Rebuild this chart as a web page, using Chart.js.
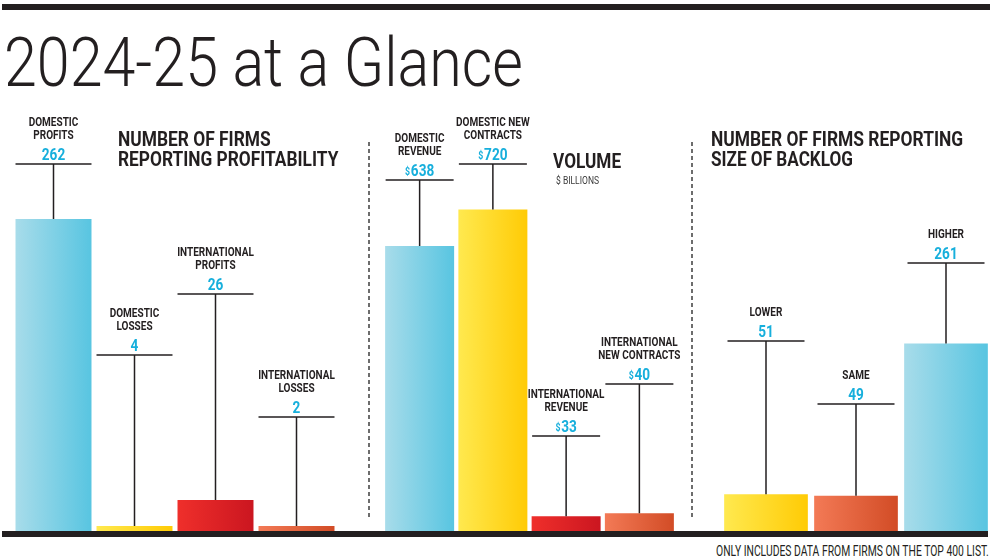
<!DOCTYPE html>
<html>
<head>
<meta charset="utf-8">
<script src="https://cdn.jsdelivr.net/npm/chart.js@4"></script>
<style>
  body { margin: 0; width: 993px; height: 558px; background: #fff; position: relative; overflow: hidden; font-family: Roboto, sans-serif; }
  .rule { position: absolute; background: #231f20; }
  .sep { position: absolute; width: 1.5px; background: repeating-linear-gradient(to bottom, #6d6d6d 0 4px, transparent 4px 7px); }
  .txt { position: absolute; white-space: nowrap; color: #231f20; transform-origin: 0 0; }
  canvas { position: absolute; top: 100px; }
</style>
</head>
<body>
<div class="rule" style="left:2px;top:4px;width:988px;height:6px"></div>
<div class="sep" style="left:368px;top:142px;height:376px"></div>
<div class="sep" style="left:691px;top:142px;height:376px"></div>

<canvas id="profits" width="344" height="431" style="left:3px"></canvas>
<canvas id="volume" width="313" height="431" style="left:373px"></canvas>
<canvas id="backlog" width="282" height="431" style="left:711px"></canvas>

<div class="rule" style="left:2px;top:531px;width:986px;height:6px"></div>

<script>
// data
const profitLabels = [['DOMESTIC', 'PROFITS'], ['DOMESTIC', 'LOSSES'], ['INTERNATIONAL', 'PROFITS'], ['INTERNATIONAL', 'LOSSES']]
const profitValues = [262, 4, 26, 2]

const volumeLabels = [['DOMESTIC', 'REVENUE'], ['DOMESTIC NEW', 'CONTRACTS'], ['INTERNATIONAL', 'REVENUE'], ['INTERNATIONAL', 'NEW CONTRACTS']]
const volumeValues = [638, 720, 33, 40]   // $ billions

const backlogLabels = [['LOWER'], ['SAME'], ['HIGHER']]
const backlogValues = [51, 49, 261]

// colours (left -> right gradient)
const INK = '#231f20'
const VALUE = '#17afdc'
const CYAN = ['#a8dcea', '#58c5e1']
const YELLOW = ['#ffe94f', '#ffcb05']
const RED = ['#ef2f2b', '#cb1620']
const ORANGE = ['#f37a56', '#d24c26']
const SX = 0.8   // condensed look

// height of each callout bar (canvas px)
const profitCallouts = [64, 255, 194, 317]
const volumeCallouts = [80, 64, 336, 284]
const backlogCallouts = [241, 304, 163]

const texts = [
  { t: '2024-25 at a Glance', x: 4, base: 86.5, fs: 69, w: 300, fit: 519 },
  { t: 'NUMBER OF FIRMS', x: 118, base: 146.5, fs: 21, w: 700, fit: 153 },
  { t: 'REPORTING PROFITABILITY', x: 118, base: 167, fs: 21, w: 700, fit: 220 },
  { t: 'VOLUME', x: 553, base: 168.5, fs: 21, w: 700, fit: 68 },
  { t: '$ BILLIONS', x: 556, base: 185, fs: 10.5, w: 400, fit: 43, c: '#3a3a3a' },
  { t: 'NUMBER OF FIRMS REPORTING', x: 711, base: 146.5, fs: 21, w: 700, fit: 252 },
  { t: 'SIZE OF BACKLOG', x: 711, base: 167, fs: 21, w: 700, fit: 142 },
  { t: 'ONLY INCLUDES DATA FROM FIRMS ON THE TOP 400 LIST.', x: 716, base: 555.5, fs: 14, w: 400, fit: 273 }
]

texts.forEach(s => {
  const el = document.createElement('div')
  el.className = 'txt'
  el.textContent = s.t
  el.style.left = s.x + 'px'
  el.style.top = (s.base - 0.842 * s.fs) + 'px'
  el.style.fontSize = s.fs + 'px'
  el.style.lineHeight = s.fs + 'px'
  el.style.fontWeight = s.w
  if (s.c) el.style.color = s.c
  document.body.appendChild(el)
  el.style.transform = 'scaleX(' + (s.fit / el.offsetWidth) + ')'
})

function drawCondensed(ctx, text, x, y, font, color, align) {
  ctx.save()
  ctx.font = font
  ctx.fillStyle = color
  ctx.textAlign = align
  ctx.textBaseline = 'alphabetic'
  ctx.translate(x, y)
  ctx.scale(SX, 1)
  ctx.fillText(text, 0, 0)
  ctx.restore()
}

const calloutPlugin = {
  id: 'callouts',
  afterDatasetsDraw(chart, args, o) {
    const ctx = chart.ctx
    const meta = chart.getDatasetMeta(0)
    meta.data.forEach((bar, i) => {
      const lineY = o.y[i]
      const w = Math.min(bar.width, o.lineMax)
      ctx.save()
      ctx.strokeStyle = INK
      ctx.lineWidth = 1.5
      ctx.beginPath()
      ctx.moveTo(bar.x - w / 2, lineY)
      ctx.lineTo(bar.x + w / 2, lineY)
      ctx.moveTo(bar.x, lineY)
      ctx.lineTo(bar.x, bar.y)
      ctx.stroke()
      ctx.restore()

      // value
      const v = String(chart.data.datasets[0].data[i])
      ctx.font = 'bold 17px Roboto'
      const dw = ctx.measureText(v).width * SX
      let pw = 0
      if (o.money) {
        ctx.font = 'bold 11px Roboto'
        pw = (ctx.measureText('$').width + 1) * SX
      }
      const start = bar.x - (dw + pw) / 2
      if (o.money) drawCondensed(ctx, '$', start, lineY - 5.5, 'bold 11px Roboto', VALUE, 'left')
      drawCondensed(ctx, v, start + pw, lineY - 4.5, 'bold 17px Roboto', VALUE, 'left')

      // category label, bottom aligned
      const lines = chart.data.labels[i]
      lines.forEach((t, k) => {
        const y = lineY - 25.5 - (lines.length - 1 - k) * 13
        drawCondensed(ctx, t, bar.x, y, 'bold 12.5px Roboto', INK, 'center')
      })
    })
  }
}

function gradientFill(colors, pct) {
  return (c) => {
    const chart = c.chart
    const pair = colors[c.dataIndex] || colors[0]
    if (!chart.chartArea) return pair[1]
    const xs = chart.scales.x
    const cx = xs.getPixelForValue(c.dataIndex)
    const half = xs.width / chart.data.labels.length * pct / 2
    const g = chart.ctx.createLinearGradient(cx - half, 0, cx + half, 0)
    g.addColorStop(0, pair[0])
    g.addColorStop(1, pair[1])
    return g
  }
}

function makePanel(id, labels, values, colors, yMax, callouts, opts) {
  new Chart(document.getElementById(id), {
    type: 'bar',
    data: {
      labels: labels,
      datasets: [{
        data: values,
        backgroundColor: gradientFill(colors, opts.pct),
        borderWidth: 0,
        barPercentage: opts.pct,
        categoryPercentage: 1,
        minBarLength: opts.minBar || 0
      }]
    },
    options: {
      responsive: false,
      animation: false,
      layout: { padding: opts.pad },
      plugins: {
        legend: { display: false },
        tooltip: { enabled: false },
        callouts: { y: callouts, money: opts.money, lineMax: opts.lineMax }
      },
      scales: {
        x: { display: false },
        y: { display: false, min: 0, max: yMax }
      }
    },
    plugins: [calloutPlugin]
  })
}

makePanel('profits', profitLabels, profitValues, [CYAN, YELLOW, RED, ORANGE], 362, profitCallouts,
  { pct: 0.938, pad: { left: 10, right: 10, top: 0, bottom: 0 }, money: false, lineMax: 77, minBar: 5 })
makePanel('volume', volumeLabels, volumeValues, [CYAN, YELLOW, RED, ORANGE], 965, volumeCallouts,
  { pct: 0.942, pad: { left: 10, right: 10, top: 0, bottom: 0 }, money: true, lineMax: 68 })
makePanel('backlog', backlogLabels, backlogValues, [YELLOW, ORANGE, CYAN], 600, backlogCallouts,
  { pct: 0.93, pad: { left: 10, right: 2, top: 0, bottom: 0 }, money: false, lineMax: 77 })
</script>
</body>
</html>
